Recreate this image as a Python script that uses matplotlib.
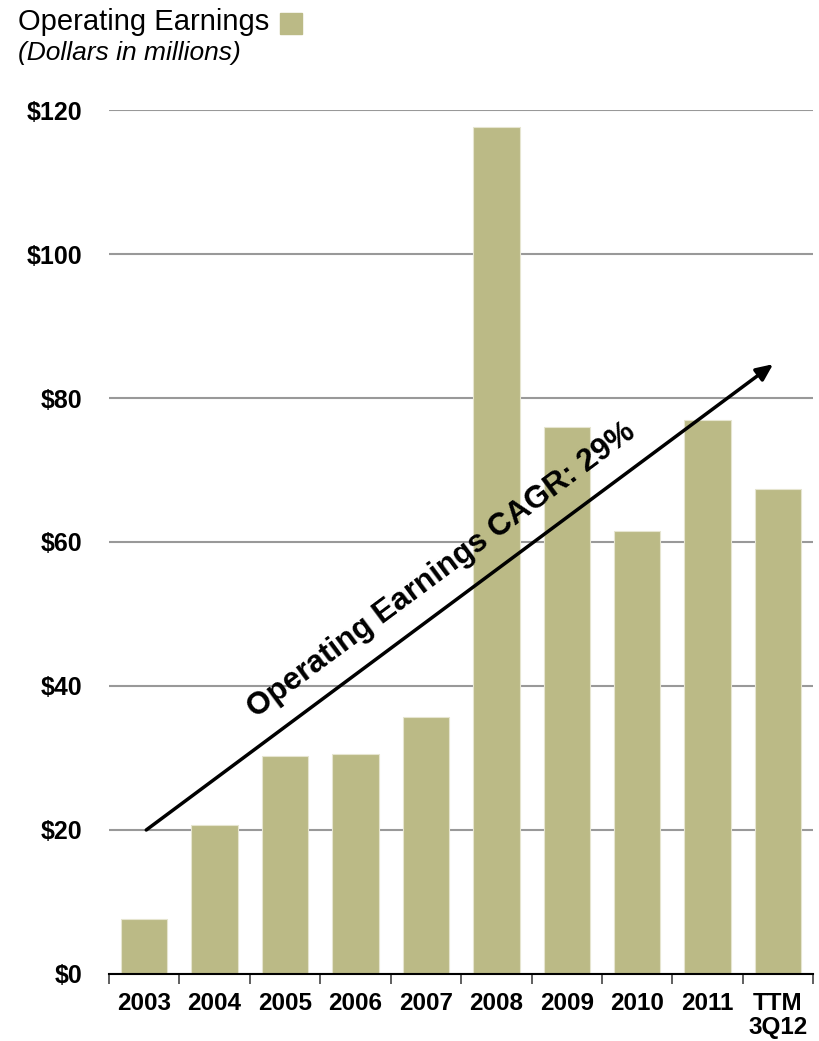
import matplotlib.pyplot as plt
from matplotlib.patches import Rectangle
import numpy as np

plt.rcParams['font.family'] = ['Liberation Sans', 'DejaVu Sans']

categories = ["2003", "2004", "2005", "2006", "2007", "2008", "2009", "2010", "2011", "TTM\n3Q12"]
earnings = [7.6, 20.7, 30.3, 30.6, 35.7, 117.6, 76.0, 61.5, 76.9, 67.4]
y_ticks = [0, 20, 40, 60, 80, 100, 120]
y_labels = ["$0", "$20", "$40", "$60", "$80", "$100", "$120"]

bar_color = "#BBBA86"

fig = plt.figure(figsize=(8.19, 10.41), dpi=100)
ax = fig.add_axes([0.133, 0.0644, 0.860, 0.8299])

x = np.arange(len(categories))
ax.bar(x, earnings, width=0.66, color=bar_color, edgecolor="#E6E5D0", linewidth=0.8, zorder=3)

ax.set_xlim(-0.5, len(categories) - 0.5)
ax.set_ylim(0, 120)
ax.set_yticks(y_ticks)
ax.set_yticklabels(y_labels, fontsize=18, fontweight="bold")
ax.yaxis.grid(True, color="#999999", linewidth=1.5, zorder=0)
ax.tick_params(axis="y", length=0, pad=19)

# category labels centred, tick marks sit on the category boundaries
ax.set_xticks(x)
ax.set_xticklabels(categories, fontsize=17.5, fontweight="bold", linespacing=1.05, va="top")
ax.tick_params(axis="x", which="major", length=0, pad=13)
ax.set_xticks(np.arange(-0.5, len(categories)), minor=True)
ax.tick_params(axis="x", which="minor", length=7, width=1.2, color="#444444", direction="out")

for side in ["left", "right", "top"]:
    ax.spines[side].set_visible(False)
ax.spines["bottom"].set_linewidth(1.5)
ax.spines["bottom"].set_zorder(4)

# CAGR trend arrow
ax.annotate("", xy=(8.93, 84.7), xytext=(0.03, 20),
            arrowprops=dict(arrowstyle="-|>,head_length=1.0,head_width=0.45",
                            color="black", lw=2.5, shrinkA=0, shrinkB=0),
            zorder=5)
ax.text(4.23, 56.1, "Operating Earnings CAGR: 29%", rotation=36.6,
        rotation_mode="anchor", ha="center", va="center",
        fontsize=22.6, fontweight="bold", zorder=5)

fig.text(18 / 819, 1 - 22 / 1041, "Operating Earnings", fontsize=21, va="center", ha="left")
fig.patches.append(Rectangle((280 / 819, 1 - 34 / 1041), 22 / 819, 21 / 1041,
                             transform=fig.transFigure, color=bar_color))
fig.text(18 / 819, 1 - 53 / 1041, "(Dollars in millions)", fontsize=19, style="italic",
         va="center", ha="left")

fig.savefig("out.png", dpi=100)
